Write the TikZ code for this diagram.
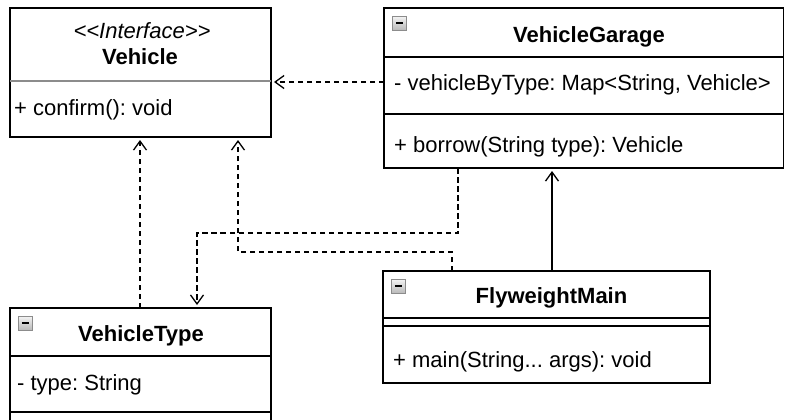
\documentclass[tikz,border=0pt]{standalone}
\usepackage{fontspec}
\setmainfont{Liberation Sans}
\usetikzlibrary{arrows.meta}
\frenchspacing
\begin{document}
\begin{tikzpicture}[x=1bp,y=-1bp,
  box/.style={draw=black, line width=1.4bp, inner sep=0pt, outer sep=0pt, anchor=north west},
  sep/.style={draw=black, line width=1.4bp},
  gsep/.style={draw=black!45, line width=1.4bp},
  txt/.style={inner sep=0pt, font=\fontsize{22bp}{26bp}\selectfont},
  ttl/.style={txt, font=\fontsize{22bp}{26bp}\selectfont\bfseries, anchor=base},
  mem/.style={txt, anchor=base west},
  collapse/.style={draw=black!45, line width=0.8bp, top color=black!5, bottom color=black!28,
    minimum size=14bp, inner sep=0pt, anchor=north west,
    path picture={\draw[line width=2bp, black] ([xshift=3.5bp]path picture bounding box.west) -- ([xshift=-3.5bp]path picture bounding box.east);}},
  dep/.style={draw=black, line width=1.3bp, dash pattern=on 5.5bp off 3.5bp, -{Straight Barb[length=9bp,width=13bp,line width=1.3bp]}, shorten >=3bp},
  assoc/.style={draw=black, line width=1.3bp, -{Straight Barb[length=9bp,width=13bp,line width=1.3bp]}, shorten >=3bp}
]
\useasboundingbox (0,0) rectangle (785,419);

% Vehicle
\node[box, minimum width=261bp, minimum height=129bp] (veh) at (10,8) {};
\draw[gsep] (10,81) -- (271,81);
\node[txt, anchor=base] (vehS) at (142,38) {\itshape <{}<Interface>{}>};
\node[ttl] (vehN) at (140,64) {Vehicle};
\node[mem] (vehM) at (14,115) {+ confirm(): void};

% VehicleGarage
\node[box, minimum width=399.5bp, minimum height=160bp] (vg) at (384,8) {};
\draw[sep] (384,57) -- (783.5,57);
\draw[sep] (384,114) -- (783.5,114);
\node[collapse] (icon1) at (392,16) {};
\node[ttl] (vgN) at (589,42) {VehicleGarage};
\node[mem] (vgA) at (394,90) {- vehicleByType: Map<String, Vehicle>};
\node[mem] (vgM) at (394,152) {+ borrow(String type): Vehicle};

% VehicleType
\node[box, minimum width=261bp, minimum height=130bp] (vt) at (10,308) {};
\draw[sep] (10,356) -- (271,356);
\node[collapse] (icon2) at (18,316) {};
\draw[sep] (10,412) -- (271,412);
\node[ttl] (vtN) at (141,341) {VehicleType};
\node[mem] (vtA) at (17,390) {- type: String};

% FlyweightMain
\node[box, minimum width=327bp, minimum height=112bp] (fm) at (383,271) {};
\draw[sep] (383,318) -- (710,318);
\draw[sep] (383,326) -- (710,326);
\node[collapse] (icon3) at (391,279) {};
\node[ttl] (fmN) at (551.5,303) {FlyweightMain};
\node[mem] (fmM) at (393,367) {+ main(String... args): void};

% connectors
\coordinate (b1) at (197,233);
\coordinate (b2) at (238,252);
\draw[dep] ([yshift=-74bp]vg.north west) -- ([yshift=-74bp]veh.north east);
\draw[assoc] ([xshift=169bp]fm.north west) -- ([xshift=169bp]fm.north west |- vg.south);
\draw[dep] ([xshift=74bp]vg.south west) |- (b1) -- (b1 |- vt.north);
\draw[dep] ([xshift=69bp]fm.north west) |- (b2) -- (b2 |- veh.south);
\draw[dep] ([xshift=130bp]vt.north west) -- ([xshift=130bp]vt.north west |- veh.south);
\end{tikzpicture}
\end{document}
